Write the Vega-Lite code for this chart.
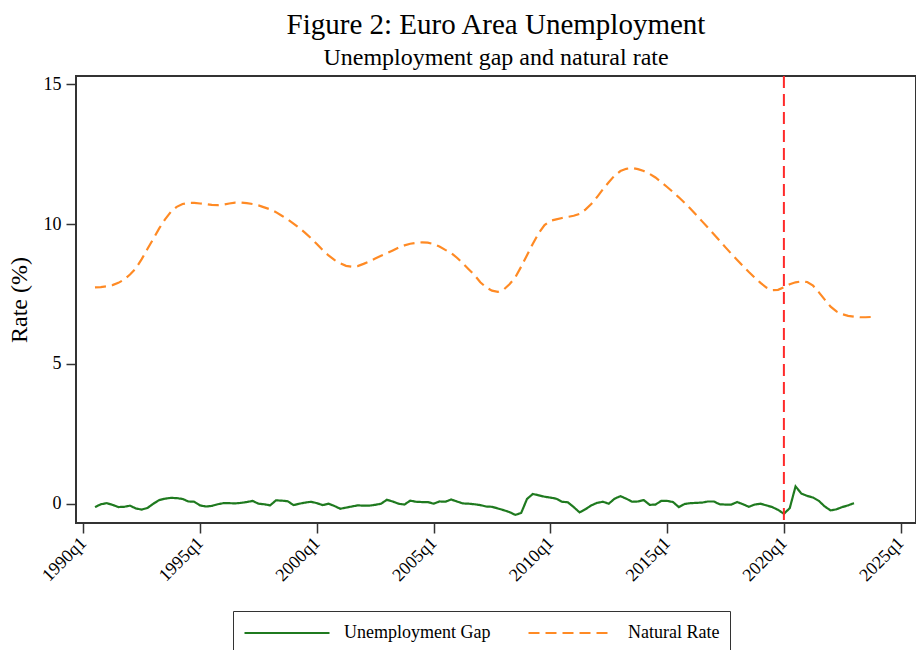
{
  "$schema": "https://vega.github.io/schema/vega-lite/v6.json",
  "width": 840,
  "height": 447,
  "autosize": {"type": "none"},
  "padding": {"left": 76, "top": 76, "right": 0, "bottom": 127},
  "background": "white",
  "title": {
    "text": "Figure 2: Euro Area Unemployment",
    "subtitle": "Unemployment gap and natural rate",
    "font": "Liberation Serif",
    "subtitleFont": "Liberation Serif",
    "fontSize": 29,
    "subtitleFontSize": 24,
    "fontWeight": "normal",
    "color": "black",
    "subtitleColor": "black",
    "anchor": "middle",
    "frame": "group",
    "offset": 5.5,
    "subtitlePadding": 6
  },
  "config": {
    "view": {"stroke": "#333", "strokeWidth": 2},
    "axis": {
      "grid": false,
      "domain": false,
      "labelFont": "Liberation Serif",
      "titleFont": "Liberation Serif",
      "labelColor": "black",
      "titleColor": "black",
      "tickColor": "#333",
      "tickWidth": 1.5,
      "tickSize": 10,
      "labelFontSize": 18,
      "titleFontSize": 24,
      "titleFontWeight": "normal"
    }
  },
  "layer": [
    {
      "data": {
        "values": [
          {"quarter": 1990.5, "Unemployment Gap": -0.12, "Natural Rate": 7.74},
          {"quarter": 1990.75, "Unemployment Gap": -0.02, "Natural Rate": 7.75},
          {"quarter": 1991.0, "Unemployment Gap": 0.02, "Natural Rate": 7.78},
          {"quarter": 1991.25, "Unemployment Gap": -0.04, "Natural Rate": 7.82},
          {"quarter": 1991.5, "Unemployment Gap": -0.12, "Natural Rate": 7.9},
          {"quarter": 1991.75, "Unemployment Gap": -0.11, "Natural Rate": 8.02},
          {"quarter": 1992.0, "Unemployment Gap": -0.07, "Natural Rate": 8.2},
          {"quarter": 1992.25, "Unemployment Gap": -0.17, "Natural Rate": 8.42},
          {"quarter": 1992.5, "Unemployment Gap": -0.21, "Natural Rate": 8.75},
          {"quarter": 1992.75, "Unemployment Gap": -0.15, "Natural Rate": 9.12},
          {"quarter": 1993.0, "Unemployment Gap": 0.0, "Natural Rate": 9.48},
          {"quarter": 1993.25, "Unemployment Gap": 0.13, "Natural Rate": 9.85},
          {"quarter": 1993.5, "Unemployment Gap": 0.18, "Natural Rate": 10.17},
          {"quarter": 1993.75, "Unemployment Gap": 0.21, "Natural Rate": 10.44},
          {"quarter": 1994.0, "Unemployment Gap": 0.2, "Natural Rate": 10.62},
          {"quarter": 1994.25, "Unemployment Gap": 0.17, "Natural Rate": 10.72},
          {"quarter": 1994.5, "Unemployment Gap": 0.08, "Natural Rate": 10.76},
          {"quarter": 1994.75, "Unemployment Gap": 0.07, "Natural Rate": 10.76},
          {"quarter": 1995.0, "Unemployment Gap": -0.06, "Natural Rate": 10.74},
          {"quarter": 1995.25, "Unemployment Gap": -0.1, "Natural Rate": 10.72},
          {"quarter": 1995.5, "Unemployment Gap": -0.08, "Natural Rate": 10.69},
          {"quarter": 1995.75, "Unemployment Gap": -0.02, "Natural Rate": 10.68},
          {"quarter": 1996.0, "Unemployment Gap": 0.02, "Natural Rate": 10.7},
          {"quarter": 1996.25, "Unemployment Gap": 0.02, "Natural Rate": 10.74},
          {"quarter": 1996.5, "Unemployment Gap": 0.01, "Natural Rate": 10.77},
          {"quarter": 1996.75, "Unemployment Gap": 0.03, "Natural Rate": 10.77},
          {"quarter": 1997.0, "Unemployment Gap": 0.06, "Natural Rate": 10.75},
          {"quarter": 1997.25, "Unemployment Gap": 0.1, "Natural Rate": 10.72},
          {"quarter": 1997.5, "Unemployment Gap": 0.0, "Natural Rate": 10.67},
          {"quarter": 1997.75, "Unemployment Gap": -0.02, "Natural Rate": 10.6},
          {"quarter": 1998.0, "Unemployment Gap": -0.06, "Natural Rate": 10.53},
          {"quarter": 1998.25, "Unemployment Gap": 0.12, "Natural Rate": 10.43},
          {"quarter": 1998.5, "Unemployment Gap": 0.11, "Natural Rate": 10.3},
          {"quarter": 1998.75, "Unemployment Gap": 0.09, "Natural Rate": 10.17},
          {"quarter": 1999.0, "Unemployment Gap": -0.05, "Natural Rate": 10.02},
          {"quarter": 1999.25, "Unemployment Gap": 0.0, "Natural Rate": 9.86},
          {"quarter": 1999.5, "Unemployment Gap": 0.04, "Natural Rate": 9.69},
          {"quarter": 1999.75, "Unemployment Gap": 0.07, "Natural Rate": 9.5},
          {"quarter": 2000.0, "Unemployment Gap": 0.02, "Natural Rate": 9.29},
          {"quarter": 2000.25, "Unemployment Gap": -0.05, "Natural Rate": 9.07},
          {"quarter": 2000.5, "Unemployment Gap": 0.0, "Natural Rate": 8.88},
          {"quarter": 2000.75, "Unemployment Gap": -0.08, "Natural Rate": 8.72},
          {"quarter": 2001.0, "Unemployment Gap": -0.18, "Natural Rate": 8.6},
          {"quarter": 2001.25, "Unemployment Gap": -0.14, "Natural Rate": 8.51},
          {"quarter": 2001.5, "Unemployment Gap": -0.1, "Natural Rate": 8.48},
          {"quarter": 2001.75, "Unemployment Gap": -0.06, "Natural Rate": 8.5},
          {"quarter": 2002.0, "Unemployment Gap": -0.07, "Natural Rate": 8.58},
          {"quarter": 2002.25, "Unemployment Gap": -0.07, "Natural Rate": 8.67},
          {"quarter": 2002.5, "Unemployment Gap": -0.04, "Natural Rate": 8.77},
          {"quarter": 2002.75, "Unemployment Gap": 0.0, "Natural Rate": 8.87},
          {"quarter": 2003.0, "Unemployment Gap": 0.14, "Natural Rate": 8.96},
          {"quarter": 2003.25, "Unemployment Gap": 0.08, "Natural Rate": 9.06},
          {"quarter": 2003.5, "Unemployment Gap": 0.0, "Natural Rate": 9.16},
          {"quarter": 2003.75, "Unemployment Gap": -0.03, "Natural Rate": 9.24},
          {"quarter": 2004.0, "Unemployment Gap": 0.11, "Natural Rate": 9.3},
          {"quarter": 2004.25, "Unemployment Gap": 0.07, "Natural Rate": 9.33},
          {"quarter": 2004.5, "Unemployment Gap": 0.06, "Natural Rate": 9.35},
          {"quarter": 2004.75, "Unemployment Gap": 0.06, "Natural Rate": 9.34},
          {"quarter": 2005.0, "Unemployment Gap": 0.0, "Natural Rate": 9.29},
          {"quarter": 2005.25, "Unemployment Gap": 0.08, "Natural Rate": 9.2},
          {"quarter": 2005.5, "Unemployment Gap": 0.07, "Natural Rate": 9.08},
          {"quarter": 2005.75, "Unemployment Gap": 0.15, "Natural Rate": 8.97},
          {"quarter": 2006.0, "Unemployment Gap": 0.08, "Natural Rate": 8.8},
          {"quarter": 2006.25, "Unemployment Gap": 0.01, "Natural Rate": 8.6},
          {"quarter": 2006.5, "Unemployment Gap": 0.0, "Natural Rate": 8.39},
          {"quarter": 2006.75, "Unemployment Gap": -0.02, "Natural Rate": 8.18},
          {"quarter": 2007.0, "Unemployment Gap": -0.05, "Natural Rate": 7.92},
          {"quarter": 2007.25, "Unemployment Gap": -0.1, "Natural Rate": 7.74},
          {"quarter": 2007.5, "Unemployment Gap": -0.11, "Natural Rate": 7.62},
          {"quarter": 2007.75, "Unemployment Gap": -0.17, "Natural Rate": 7.58},
          {"quarter": 2008.0, "Unemployment Gap": -0.23, "Natural Rate": 7.66},
          {"quarter": 2008.25, "Unemployment Gap": -0.3, "Natural Rate": 7.85},
          {"quarter": 2008.5, "Unemployment Gap": -0.4, "Natural Rate": 8.1},
          {"quarter": 2008.75, "Unemployment Gap": -0.33, "Natural Rate": 8.48},
          {"quarter": 2009.0, "Unemployment Gap": 0.17, "Natural Rate": 8.89},
          {"quarter": 2009.25, "Unemployment Gap": 0.35, "Natural Rate": 9.3},
          {"quarter": 2009.5, "Unemployment Gap": 0.3, "Natural Rate": 9.68},
          {"quarter": 2009.75, "Unemployment Gap": 0.25, "Natural Rate": 9.97},
          {"quarter": 2010.0, "Unemployment Gap": 0.22, "Natural Rate": 10.12},
          {"quarter": 2010.25, "Unemployment Gap": 0.18, "Natural Rate": 10.17},
          {"quarter": 2010.5, "Unemployment Gap": 0.07, "Natural Rate": 10.22},
          {"quarter": 2010.75, "Unemployment Gap": 0.05, "Natural Rate": 10.26},
          {"quarter": 2011.0, "Unemployment Gap": -0.12, "Natural Rate": 10.3},
          {"quarter": 2011.25, "Unemployment Gap": -0.31, "Natural Rate": 10.37},
          {"quarter": 2011.5, "Unemployment Gap": -0.2, "Natural Rate": 10.52},
          {"quarter": 2011.75, "Unemployment Gap": -0.06, "Natural Rate": 10.72},
          {"quarter": 2012.0, "Unemployment Gap": 0.03, "Natural Rate": 10.97},
          {"quarter": 2012.25, "Unemployment Gap": 0.07, "Natural Rate": 11.25},
          {"quarter": 2012.5, "Unemployment Gap": 0.0, "Natural Rate": 11.5},
          {"quarter": 2012.75, "Unemployment Gap": 0.18, "Natural Rate": 11.74},
          {"quarter": 2013.0, "Unemployment Gap": 0.27, "Natural Rate": 11.9},
          {"quarter": 2013.25, "Unemployment Gap": 0.18, "Natural Rate": 11.98},
          {"quarter": 2013.5, "Unemployment Gap": 0.07, "Natural Rate": 12.01},
          {"quarter": 2013.75, "Unemployment Gap": 0.08, "Natural Rate": 11.97},
          {"quarter": 2014.0, "Unemployment Gap": 0.13, "Natural Rate": 11.9},
          {"quarter": 2014.25, "Unemployment Gap": -0.04, "Natural Rate": 11.8},
          {"quarter": 2014.5, "Unemployment Gap": -0.03, "Natural Rate": 11.67},
          {"quarter": 2014.75, "Unemployment Gap": 0.1, "Natural Rate": 11.5},
          {"quarter": 2015.0, "Unemployment Gap": 0.1, "Natural Rate": 11.33},
          {"quarter": 2015.25, "Unemployment Gap": 0.06, "Natural Rate": 11.15},
          {"quarter": 2015.5, "Unemployment Gap": -0.12, "Natural Rate": 10.96},
          {"quarter": 2015.75, "Unemployment Gap": -0.01, "Natural Rate": 10.76},
          {"quarter": 2016.0, "Unemployment Gap": 0.02, "Natural Rate": 10.55},
          {"quarter": 2016.25, "Unemployment Gap": 0.03, "Natural Rate": 10.33},
          {"quarter": 2016.5, "Unemployment Gap": 0.04, "Natural Rate": 10.1},
          {"quarter": 2016.75, "Unemployment Gap": 0.08, "Natural Rate": 9.87},
          {"quarter": 2017.0, "Unemployment Gap": 0.08, "Natural Rate": 9.64},
          {"quarter": 2017.25, "Unemployment Gap": -0.02, "Natural Rate": 9.41},
          {"quarter": 2017.5, "Unemployment Gap": -0.03, "Natural Rate": 9.17},
          {"quarter": 2017.75, "Unemployment Gap": -0.03, "Natural Rate": 8.94},
          {"quarter": 2018.0, "Unemployment Gap": 0.06, "Natural Rate": 8.72},
          {"quarter": 2018.25, "Unemployment Gap": -0.02, "Natural Rate": 8.5},
          {"quarter": 2018.5, "Unemployment Gap": -0.11, "Natural Rate": 8.29},
          {"quarter": 2018.75, "Unemployment Gap": -0.03, "Natural Rate": 8.09},
          {"quarter": 2019.0, "Unemployment Gap": 0.0, "Natural Rate": 7.9},
          {"quarter": 2019.25, "Unemployment Gap": -0.06, "Natural Rate": 7.73},
          {"quarter": 2019.5, "Unemployment Gap": -0.12, "Natural Rate": 7.64},
          {"quarter": 2019.75, "Unemployment Gap": -0.22, "Natural Rate": 7.65},
          {"quarter": 2020.0, "Unemployment Gap": -0.36, "Natural Rate": 7.74},
          {"quarter": 2020.25, "Unemployment Gap": -0.16, "Natural Rate": 7.85},
          {"quarter": 2020.5, "Unemployment Gap": 0.62, "Natural Rate": 7.92},
          {"quarter": 2020.75, "Unemployment Gap": 0.36, "Natural Rate": 7.95},
          {"quarter": 2021.0, "Unemployment Gap": 0.28, "Natural Rate": 7.93},
          {"quarter": 2021.25, "Unemployment Gap": 0.22, "Natural Rate": 7.8},
          {"quarter": 2021.5, "Unemployment Gap": 0.1, "Natural Rate": 7.56},
          {"quarter": 2021.75, "Unemployment Gap": -0.1, "Natural Rate": 7.3},
          {"quarter": 2022.0, "Unemployment Gap": -0.24, "Natural Rate": 7.05},
          {"quarter": 2022.25, "Unemployment Gap": -0.2, "Natural Rate": 6.88},
          {"quarter": 2022.5, "Unemployment Gap": -0.12, "Natural Rate": 6.78},
          {"quarter": 2022.75, "Unemployment Gap": -0.06, "Natural Rate": 6.72},
          {"quarter": 2023.0, "Unemployment Gap": 0.02, "Natural Rate": 6.69},
          {"quarter": 2023.25, "Natural Rate": 6.67},
          {"quarter": 2023.5, "Natural Rate": 6.67},
          {"quarter": 2023.75, "Natural Rate": 6.68}
        ]
      },
      "transform": [
        {"fold": ["Unemployment Gap", "Natural Rate"], "as": ["series", "value"]},
        {"filter": "isValid(datum.value)"}
      ],
      "mark": {"type": "line", "strokeWidth": 2.2},
      "encoding": {
        "x": {
          "field": "quarter",
          "type": "quantitative",
          "scale": {"domain": [1989.687, 2025.657], "nice": false, "zero": false},
          "axis": {
            "title": null,
            "values": [1990, 1995, 2000, 2005, 2010, 2015, 2020, 2025],
            "labelExpr": "datum.value + 'q1'",
            "labelAngle": -45,
            "labelAlign": "right",
            "labelBaseline": "middle",
            "labelPadding": 7
          }
        },
        "y": {
          "field": "value",
          "type": "quantitative",
          "scale": {"domain": [-0.69, 15.3], "nice": false, "zero": false},
          "axis": {
            "title": "Rate (%)",
            "values": [0, 5, 10, 15],
            "labelPadding": 5,
            "titleX": -45,
            "titleY": 223.5
          }
        },
        "color": {
          "field": "series",
          "type": "nominal",
          "scale": {"domain": ["Unemployment Gap", "Natural Rate"], "range": ["#1f7a1f", "#ff8a24"]},
          "legend": {
            "title": null,
            "orient": "none",
            "legendX": 157,
            "legendY": 535,
            "direction": "horizontal",
            "columns": 2,
            "columnPadding": 36,
            "symbolType": "stroke",
            "symbolSize": 7225,
            "symbolStrokeWidth": 2.2,
            "clipHeight": 24,
            "labelOffset": 13,
            "labelFont": "Liberation Serif",
            "labelFontSize": 18,
            "labelColor": "black",
            "strokeColor": "#333",
            "padding": 10
          }
        },
        "strokeDash": {
          "field": "series",
          "type": "nominal",
          "scale": {"domain": ["Unemployment Gap", "Natural Rate"], "range": [[1, 0], [11, 6]]},
          "legend": null
        }
      }
    },
    {
      "data": {"values": [{"xline": 2020}]},
      "mark": {"type": "rule", "color": "#ff2a2a", "strokeWidth": 2, "strokeDash": [12, 6]},
      "encoding": {
        "x": {"field": "xline", "type": "quantitative"}
      }
    }
  ]
}
